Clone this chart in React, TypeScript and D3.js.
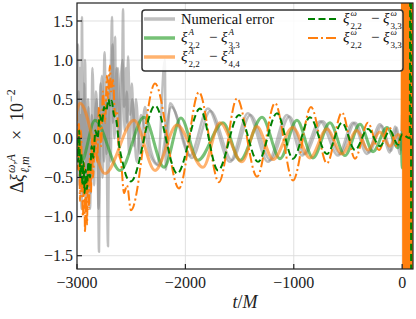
import * as d3 from 'd3';

const W = 416;
const H = 319;
const FONT = '"Liberation Serif", "DejaVu Serif", serif';

const xTicks = [-3000, -2000, -1000, 0];
const yTicks = [-1.5, -1, -0.5, 0, 0.5, 1, 1.5];

type Pt = [number, number];

// Numerical error (two overlapping gray curves)
const grayA: Pt[] = [
  [-3000, 0.4], [-2991, 1.2], [-2982, -0.2], [-2972, 0.9], [-2963, -0.5], [-2954, 1.55],
  [-2945, -0.3], [-2935, 0.7], [-2917, -0.8], [-2898, 0.5], [-2880, -0.9], [-2862, 0.3],
  [-2843, -0.6], [-2825, 0.6], [-2806, -0.4], [-2797, -1.45], [-2788, 0.2], [-2769, 0.8],
  [-2751, -0.3], [-2732, 0.5], [-2714, -1.38], [-2705, 0.1], [-2686, 1.0], [-2677, 1.55],
  [-2668, 0.2], [-2649, 1.3], [-2640, 0.3], [-2622, 0.9], [-2603, 0.0], [-2585, 0.6],
  [-2575, 1.65], [-2566, 0.4], [-2548, 0.9], [-2539, 0.2], [-2529, 1.05], [-2511, 0.3],
  [-2493, 0.7], [-2474, -0.1], [-2456, 0.5], [-2419, -0.2], [-2373, 0.4], [-2327, -0.1],
  [-2253, -0.33], [-2190, 1.0], [-2180, -0.4], [-2142, 0.45], [-1958, -0.22], [-1792, 0.38],
  [-1589, -0.3], [-1423, 0.32], [-1238, -0.3], [-1063, 0.3], [-924, -0.22], [-758, 0.22],
  [-592, -0.22], [-454, 0.2], [-325, -0.2], [-205, 0.18], [-113, -0.18], [-67, 0.15],
  [-20, -0.2], [0, 0.1],
];
const grayB: Pt[] = [
  [-3000, -0.2], [-2986, 0.6], [-2977, -0.6], [-2968, 0.3], [-2958, -0.9], [-2949, 0.5],
  [-2940, -0.2], [-2926, 1.0], [-2912, -0.5], [-2894, 0.4], [-2875, -0.7], [-2857, 0.9],
  [-2838, -0.2], [-2820, 0.5], [-2801, -0.9], [-2783, 0.7], [-2764, -0.5], [-2746, 1.1],
  [-2727, -0.2], [-2709, 0.8], [-2690, -0.3], [-2672, 1.2], [-2654, 0.0], [-2635, 0.9],
  [-2617, -0.1], [-2598, 0.7], [-2580, 1.0], [-2560, 0.1], [-2540, 0.6], [-2520, -0.2],
  [-2490, 0.5], [-2450, -0.3], [-2410, 0.3], [-2330, -0.2], [-2240, -0.35], [-2130, 0.4],
  [-1940, -0.25], [-1770, 0.35], [-1570, -0.28], [-1400, 0.3], [-1215, -0.28], [-1040, 0.28],
  [-900, -0.2], [-735, 0.22], [-570, -0.2], [-435, 0.2], [-305, -0.18], [-190, 0.16],
  [-100, -0.16], [-50, 0.14], [-10, -0.15], [0, 0.3],
];

// xi^A_{2,2} - xi^A_{3,3}
const greenAmp: Pt[] = [
  [-3000, 0.0], [-2960, -0.3], [-2834, 0.23], [-2603, -0.41], [-2382, 0.27], [-2197, -0.37],
  [-2041, 0.26], [-1884, -0.28], [-1653, 0.2], [-1496, -0.28], [-1293, 0.27], [-1127, -0.26],
  [-971, 0.23], [-823, -0.25], [-666, 0.2], [-528, -0.22], [-389, 0.18], [-269, -0.17],
  [-140, 0.14], [-39, -0.12], [-10, 0.05], [0, -0.38], [8, 0.3],
];

// xi^A_{2,2} - xi^A_{4,4}
const orangeAmp: Pt[] = [
  [-3000, 0.35], [-2972, 0.45], [-2742, -0.45], [-2474, 0.23], [-2280, -0.41], [-2078, 0.17],
  [-1838, -0.37], [-1681, 0.2], [-1478, -0.3], [-1340, 0.15], [-1190, -0.27], [-1010, 0.14],
  [-851, -0.25], [-694, 0.12], [-555, -0.2], [-417, 0.1], [-316, -0.15], [-205, 0.08],
  [-113, -0.1], [-39, 0.05], [0, 0.0],
];

// xi^w_{2,2} - xi^w_{3,3} (green dashed)
const greenFreq: Pt[] = [
  [-3000, 0.0], [-2990, -0.3], [-2980, 0.1], [-2970, -0.5], [-2960, -0.2], [-2950, -0.6],
  [-2940, -0.3], [-2930, -0.7], [-2920, -0.4], [-2908, -0.65], [-2895, -0.3], [-2880, -0.5],
  [-2865, -0.1], [-2850, -0.25], [-2830, 0.1], [-2810, 0.0], [-2790, 0.3], [-2770, 0.2],
  [-2750, 0.4], [-2730, 0.35], [-2710, 0.5], [-2696, 0.42], [-2680, 0.48], [-2660, 0.3],
  [-2640, 0.25], [-2610, -0.1], [-2580, -0.3], [-2540, -0.5], [-2502, -0.55],
  [-2280, 0.42], [-2075, -0.45], [-1865, 0.38], [-1699, -0.41], [-1506, 0.3], [-1330, -0.3],
  [-1155, 0.32], [-1007, -0.26], [-851, 0.27], [-694, -0.2], [-555, 0.2], [-435, -0.15],
  [-316, 0.12], [-205, -0.1], [-113, 0.1], [-39, -0.08], [0, 0.05],
  [70, 0.0], [78, 5], [84, -5],
];

// xi^w_{2,2} - xi^w_{3,3} (orange dash-dot); after merger it blows up
const orangeFreq: Pt[] = [
  [-3000, 0.35], [-2990, -0.4], [-2982, 0.2], [-2972, -0.8], [-2963, 0.1], [-2954, -0.6],
  [-2945, -1.0], [-2935, -0.3], [-2926, -1.2], [-2917, -0.5], [-2908, -1.1], [-2898, -0.4],
  [-2889, -0.9], [-2880, -0.2], [-2871, -0.7], [-2862, 0.0], [-2852, -0.5], [-2834, 0.1],
  [-2815, -0.3], [-2797, 0.4], [-2778, -0.1], [-2760, 0.6], [-2742, 0.2], [-2723, 0.8],
  [-2714, 0.5], [-2696, 0.93], [-2686, 0.6], [-2668, 0.75], [-2649, 0.3], [-2631, 0.35],
  [-2612, -0.2], [-2594, -0.3], [-2566, -0.7], [-2539, -0.6], [-2502, -0.92],
  [-2280, 0.7], [-2059, -0.64], [-1875, 0.59], [-1690, -0.56], [-1524, 0.51], [-1339, -0.49],
  [-1173, 0.45], [-1007, -0.54], [-841, 0.4], [-694, -0.32], [-555, 0.33], [-435, -0.26],
  [-316, 0.2], [-214, -0.15], [-122, 0.15], [-48, -0.1], [-5, 0.1],
  [8, 5], [10, -5], [12, 5], [14, -5], [16, 5], [18, -5], [20, 5], [22, -5], [24, 5],
  [26, -5], [28, 5], [30, -5], [32, 5], [34, -5], [36, 5], [38, -5], [40, 5], [42, -5],
  [44, 5], [46, -5], [48, 5], [50, -5], [52, 5], [54, -5], [56, 5], [58, -5], [60, 5],
  [62, -5], [64, 5], [66, -5], [68, 5], [70, -5], [72, 5], [74, -5], [76, 5], [78, -5],
  [80, 5], [82, -5], [84, 5], [86, -5], [88, 5], [90, -5], [92, 5], [94, -5], [96, 5],
  [98, -5], [100, 5],
];

const fmt = (v: number) => v.toFixed(1).replace('-', '\u2212');

function XiDiff({ x0, y0, sup, a, b }: { x0: number; y0: number; sup: string; a: string; b: string }) {
  return (
    <g transform={`translate(${x0},${y0})`} fontFamily={FONT} fill="#111">
      <text x={0} y={0} fontStyle="italic" fontSize={15}>ξ</text>
      <text x={7.5} y={-7.5} fontStyle="italic" fontSize={9}>{sup}</text>
      <text x={7.5} y={6} fontSize={9}>{a}</text>
      <text x={28} y={0} fontSize={15}>−</text>
      <text x={40} y={0} fontStyle="italic" fontSize={15}>ξ</text>
      <text x={47.5} y={-7.5} fontStyle="italic" fontSize={9}>{sup}</text>
      <text x={47.5} y={6} fontSize={9}>{b}</text>
    </g>
  );
}

export default function App() {
  const x = d3.scaleLinear().domain([-3000, 100]).range([77, 413]);
  const y = d3.scaleLinear().domain([-1.67, 1.73]).range([269, 3]);
  const line = d3
    .line<Pt>()
    .x((d) => x(d[0]))
    .y((d) => y(d[1]))
    .curve(d3.curveMonotoneX);

  const [x0, x1] = x.range();
  const [y0, y1] = y.range();

  // the frequency difference diverges after merger: draw that part solid so it fills
  const ofInspiral = orangeFreq.filter((d) => d[0] <= -5);
  const ofRingdown = orangeFreq.filter((d) => d[0] >= -5);

  return (
    <svg width={W} height={H} style={{ position: 'absolute', left: 0, top: 0, background: '#fff' }}>
      <defs>
        <clipPath id="plot">
          <rect x={x0} y={y1} width={x1 - x0} height={y0 - y1} />
        </clipPath>
      </defs>

      {/* grid */}
      <g stroke="#dcdcdc" strokeWidth={0.9}>
        {xTicks.map((t) => (
          <line key={t} x1={x(t)} x2={x(t)} y1={y1} y2={y0} />
        ))}
        {yTicks.map((t) => (
          <line key={t} x1={x0} x2={x1} y1={y(t)} y2={y(t)} />
        ))}
      </g>

      <g clipPath="url(#plot)" fill="none" strokeLinejoin="round">
        <path d={line(grayA) ?? ''} stroke="#808080" strokeOpacity={0.5} strokeWidth={2.5} />
        <path d={line(grayB) ?? ''} stroke="#808080" strokeOpacity={0.5} strokeWidth={2.5} />
        <path d={line(greenAmp) ?? ''} stroke="#2ca02c" strokeOpacity={0.65} strokeWidth={3} />
        <path d={line(orangeAmp) ?? ''} stroke="#ff7f0e" strokeOpacity={0.6} strokeWidth={3} />
        <path d={line(ofInspiral) ?? ''} stroke="#ff7f0e" strokeWidth={2} strokeDasharray="10 3 2 3" />
        <path d={line(ofRingdown) ?? ''} stroke="#ff7f0e" strokeWidth={2} />
        <path d={line(greenFreq) ?? ''} stroke="#008000" strokeWidth={2} strokeDasharray="7 3.5" />
      </g>

      {/* frame */}
      <rect x={x0} y={y1} width={x1 - x0} height={y0 - y1} fill="none" stroke="#222" strokeWidth={1.2} />

      {/* ticks */}
      <g stroke="#222" strokeWidth={1.2}>
        {xTicks.map((t) => (
          <line key={t} x1={x(t)} x2={x(t)} y1={y0} y2={y0 - 5} />
        ))}
        {yTicks.map((t) => (
          <line key={t} x1={x0} x2={x0 + 5} y1={y(t)} y2={y(t)} />
        ))}
      </g>
      <g fontFamily={FONT} fontSize={16} fill="#222">
        {xTicks.map((t) => (
          <text key={t} x={x(t)} y={288} textAnchor="middle">
            {t < 0 ? `\u2212${Math.abs(t)}` : `${t}`}
          </text>
        ))}
        {yTicks.map((t) => (
          <text key={t} x={73} y={y(t)} dy="0.35em" textAnchor="end">
            {fmt(t)}
          </text>
        ))}
      </g>

      {/* axis labels */}
      <text x={(x0 + x1) / 2} y={308} textAnchor="middle" fontFamily={FONT} fontSize={18} fill="#222">
        <tspan fontStyle="italic">t</tspan>/<tspan fontStyle="italic">M</tspan>
      </text>
      <g transform="translate(23,136) rotate(-90)" fontFamily={FONT} fill="#222">
        <text x={-57} y={0} fontSize={18}>Δ</text>
        <text x={-46} y={0} fontSize={18} fontStyle="italic">ξ</text>
        <text x={-37} y={-8} fontSize={12} fontStyle="italic">ω,A</text>
        <text x={-37} y={6} fontSize={12} fontStyle="italic">ℓ,m</text>
        <text x={-4} y={0} fontSize={18}>×</text>
        <text x={15} y={0} fontSize={18}>10</text>
        <text x={34} y={-8} fontSize={12}>−2</text>
      </g>

      {/* legend */}
      <rect x={142} y={10} width={261} height={61} rx={3} fill="#fff" fillOpacity={0.85} stroke="#333" strokeWidth={1.5} />
      <line x1={144} x2={175} y1={19} y2={19} stroke="#808080" strokeOpacity={0.5} strokeWidth={3.5} />
      <text x={181} y={24} fontFamily={FONT} fontSize={14.5} fill="#111">Numerical error</text>
      <line x1={144} x2={175} y1={38} y2={38} stroke="#2ca02c" strokeOpacity={0.65} strokeWidth={3.5} />
      <XiDiff x0={181} y0={42} sup="A" a="2,2" b="3,3" />
      <line x1={144} x2={175} y1={57} y2={57} stroke="#ff7f0e" strokeOpacity={0.6} strokeWidth={3.5} />
      <XiDiff x0={181} y0={61} sup="A" a="2,2" b="4,4" />
      <line x1={308} x2={338} y1={19} y2={19} stroke="#008000" strokeWidth={2} strokeDasharray="7 3.5" />
      <XiDiff x0={343} y0={23} sup="ω" a="2,2" b="3,3" />
      <line x1={308} x2={338} y1={38} y2={38} stroke="#ff7f0e" strokeWidth={2} strokeDasharray="10 3 2 3" />
      <XiDiff x0={343} y0={42} sup="ω" a="2,2" b="3,3" />
    </svg>
  );
}
